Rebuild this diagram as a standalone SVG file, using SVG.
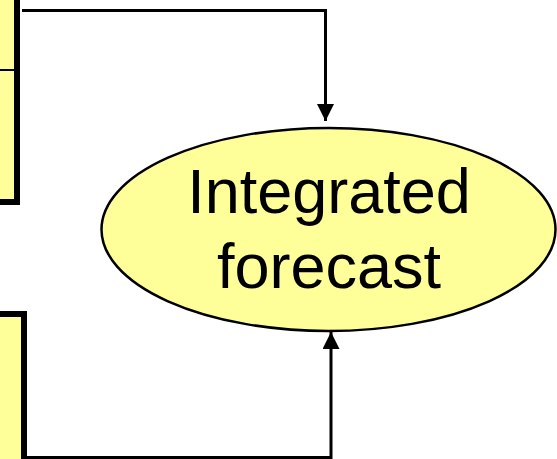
<svg xmlns="http://www.w3.org/2000/svg" width="557" height="459" viewBox="0 0 557 459">
  <style>
    .box { fill: #FFFF99; stroke: #000; stroke-width: 6; }
    .divider { stroke: #000; stroke-width: 2; fill: none; }
    .conn { stroke: #000; stroke-width: 3; fill: none; }
    .ellipse { fill: #FFFF99; stroke: #000; stroke-width: 2.5; }
    .label { font-family: "Liberation Sans", Arial, sans-serif; font-size: 63px; fill: #000; text-anchor: middle; }
  </style>
  <defs>
    <marker id="arrow" viewBox="0 0 17 17" refX="17" refY="8.5" markerWidth="17" markerHeight="17" markerUnits="userSpaceOnUse" orient="auto">
      <path d="M0,0 L17,8.5 L0,17 Z" fill="#000"/>
    </marker>
  </defs>

  <rect width="557" height="459" fill="#fff"/>

  <!-- upper input box (partly off canvas) -->
  <g id="box-upper">
    <rect class="box" x="-20" y="-20" width="37" height="222"/>
    <line class="divider" x1="0" y1="70" x2="14" y2="70"/>
  </g>

  <!-- lower input box (partly off canvas) -->
  <g id="box-lower">
    <rect class="box" x="-20" y="314" width="44" height="170"/>
  </g>

  <!-- result node -->
  <g id="integrated-forecast">
    <ellipse class="ellipse" cx="328.5" cy="229.5" rx="227" ry="101.5"/>
    <text class="label" x="329" y="213">Integrated</text>
    <text class="label" x="329" y="288">forecast</text>
  </g>

  <!-- connectors -->
  <g id="connectors">
    <polyline class="conn" points="22,10.5 325.5,10.5 325.5,121" marker-end="url(#arrow)"/>
    <polyline class="conn" points="27,457.5 331,457.5 331,332" marker-end="url(#arrow)"/>
  </g>
</svg>
